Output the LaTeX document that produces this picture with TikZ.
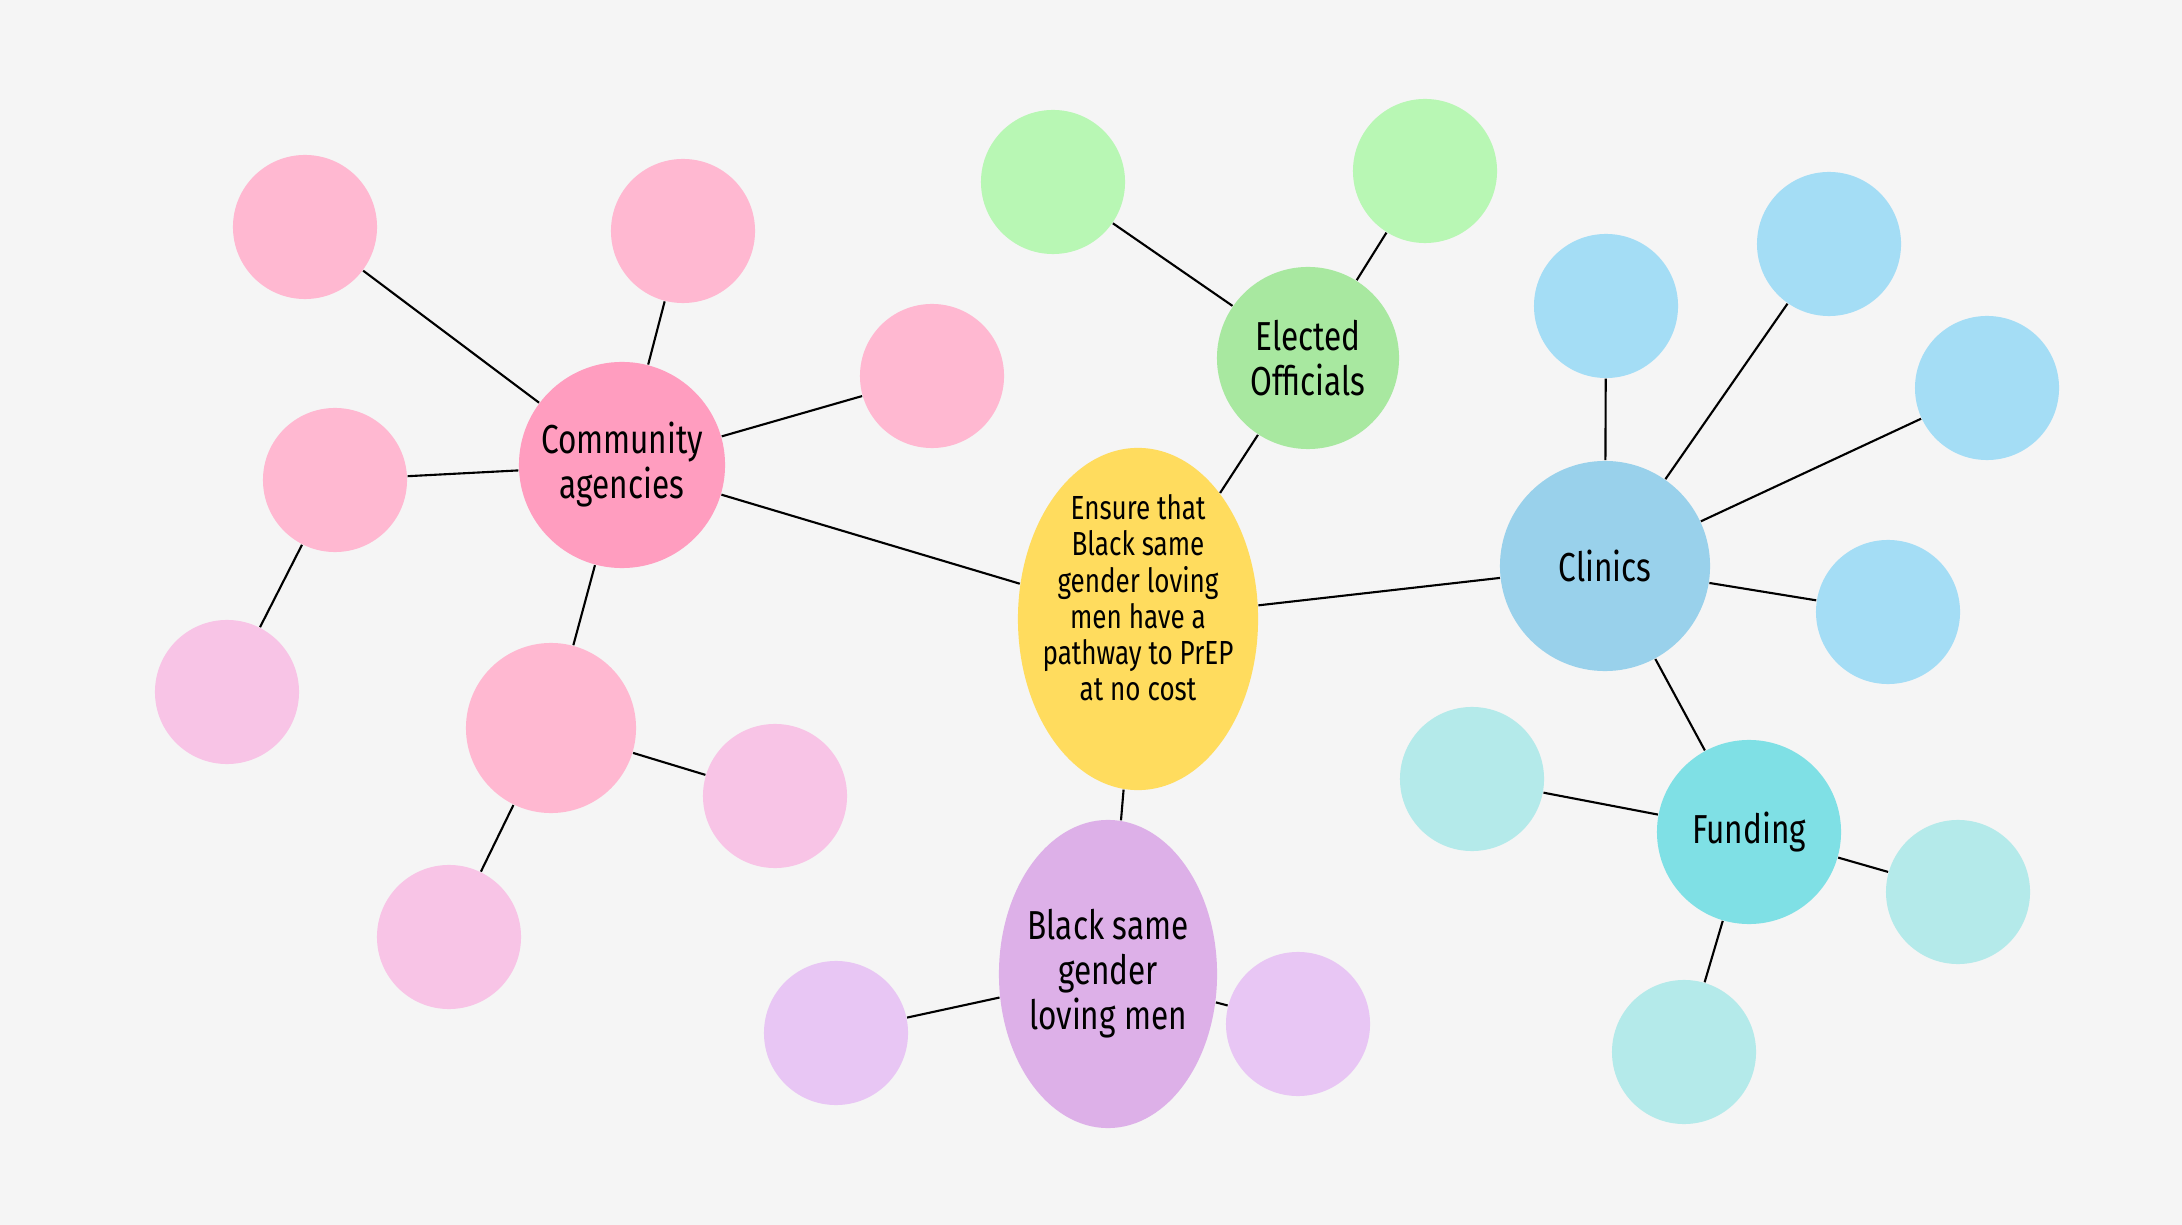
\documentclass[tikz,border=0pt]{standalone}
\usepackage{fontspec}
\setmainfont{Fira Sans}[FakeStretch=0.78]
\usetikzlibrary{shapes.geometric}

\definecolor{bgcol}{HTML}{F5F5F5}
\definecolor{goalcol}{HTML}{FFDC5E}
\definecolor{commcol}{HTML}{FF9DBF}
\definecolor{pinkleaf}{HTML}{FFB8D1}
\definecolor{pinklight}{HTML}{F8C4E6}
\definecolor{electcol}{HTML}{A8E8A0}
\definecolor{greenleaf}{HTML}{B8F7B4}
\definecolor{cliniccol}{HTML}{99D1EB}
\definecolor{blueleaf}{HTML}{A4DDF5}
\definecolor{fundcol}{HTML}{7FE0E5}
\definecolor{tealleaf}{HTML}{B4EAEA}
\definecolor{mencol}{HTML}{DDB0E8}
\definecolor{purpleleaf}{HTML}{E8C6F4}

\begin{document}
\begin{tikzpicture}[x=0.01cm, y=-0.01cm,
    every node/.style={inner sep=0pt, align=center, text=black},
    hub/.style={circle, font=\fontsize{11.5}{12.8}\selectfont},
    leaf/.style={circle, minimum size=1.44cm},
    link/.style={line width=0.6pt, black}]
      \fill[bgcol] (0,0) rectangle (2182,1225);

      % main nodes
      \node[ellipse, fill=goalcol, minimum width=2.40cm, minimum height=3.42cm]
        (goal) at (1138,619) {};
      \node[font=\fontsize{9.5}{10.3}\selectfont] (goaltext) at ([yshift=0.21cm]goal.center)
        {Ensure that\\Black same\\gender loving\\men have a\\pathway to PrEP\\at no cost};
      \node[hub, fill=commcol, minimum size=2.06cm] (comm) at (622,465) {Community\\agencies};
      \node[hub, fill=electcol, minimum size=1.82cm] (elect) at (1308,358) {Elected\\Officials};
      \node[hub, fill=cliniccol, minimum size=2.10cm] (clinic) at (1605,566) {Clinics};
      \node[hub, fill=fundcol, minimum size=1.84cm] (fund) at (1749,832) {Funding};
      \node[hub, ellipse, fill=mencol, minimum width=2.18cm, minimum height=3.08cm,
        inner xsep=-0.08cm] (men) at (1108,974) {Black same\\gender\\loving men};

      % pink leaves
      \node[leaf, fill=pinkleaf] (comma) at (305,227) {};
      \node[leaf, fill=pinkleaf] (commb) at (683,231) {};
      \node[leaf, fill=pinkleaf] (commc) at (932,376) {};
      \node[leaf, fill=pinkleaf] (commd) at (335,480) {};
      \node[leaf, fill=pinklight] (commdd) at (227,692) {};
      \node[circle, fill=pinkleaf, minimum size=1.70cm] (comme) at (551,728) {};
      \node[leaf, fill=pinklight] (commea) at (775,796) {};
      \node[leaf, fill=pinklight] (commeb) at (449,937) {};

      % green leaves
      \node[leaf, fill=greenleaf] (electa) at (1053,182) {};
      \node[leaf, fill=greenleaf] (electb) at (1425,171) {};

      % blue leaves
      \node[leaf, fill=blueleaf] (clinica) at (1606,306) {};
      \node[leaf, fill=blueleaf] (clinicb) at (1829,244) {};
      \node[leaf, fill=blueleaf] (clinicc) at (1987,388) {};
      \node[leaf, fill=blueleaf] (clinicd) at (1888,612) {};

      % teal leaves
      \node[leaf, fill=tealleaf] (funda) at (1472,779) {};
      \node[leaf, fill=tealleaf] (fundb) at (1958,892) {};
      \node[leaf, fill=tealleaf] (fundc) at (1684,1052) {};

      % purple leaves
      \node[leaf, fill=purpleleaf] (mena) at (836,1033) {};
      \node[leaf, fill=purpleleaf] (menb) at (1298,1024) {};

      % links
      \draw[link] (goal) -- (comm);
      \draw[link] (goal) -- (elect);
      \draw[link] (goal) -- (clinic);
      \draw[link] (goal) -- (men);
      \draw[link] (clinic) -- (fund);

      \draw[link] (comm) -- (comma);
      \draw[link] (comm) -- (commb);
      \draw[link] (comm) -- (commc);
      \draw[link] (comm) -- (commd);
      \draw[link] (commd) -- (commdd);
      \draw[link] (comm) -- (comme);
      \draw[link] (comme) -- (commea);
      \draw[link] (comme) -- (commeb);

      \draw[link] (elect) -- (electa);
      \draw[link] (elect) -- (electb);

      \draw[link] (clinic) -- (clinica);
      \draw[link] (clinic) -- (clinicb);
      \draw[link] (clinic) -- (clinicc);
      \draw[link] (clinic) -- (clinicd);

      \draw[link] (fund) -- (funda);
      \draw[link] (fund) -- (fundb);
      \draw[link] (fund) -- (fundc);

      \draw[link] (men) -- (mena);
      \draw[link] (men) -- (menb);

    \end{tikzpicture}
\end{document}
